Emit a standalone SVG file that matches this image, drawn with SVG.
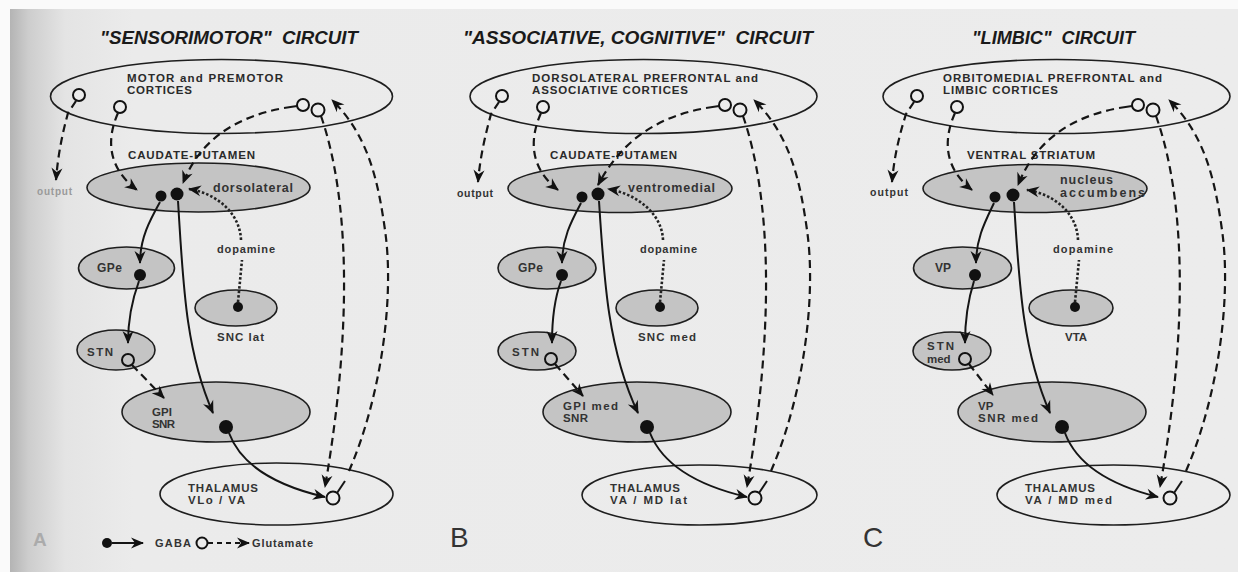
<svg xmlns="http://www.w3.org/2000/svg" width="1238" height="572" viewBox="0 0 1238 572">
<defs>
<linearGradient id="page" x1="10" y1="0" x2="1238" y2="0" gradientUnits="userSpaceOnUse">
<stop offset="0" stop-color="#b4b4b4"/>
<stop offset="0.015" stop-color="#cdcdcd"/>
<stop offset="0.045" stop-color="#e4e4e4"/>
<stop offset="0.1" stop-color="#ebebeb"/>
<stop offset="1" stop-color="#ececec"/>
</linearGradient>
<marker id="ah" viewBox="-13 -6 15 12" refX="0" refY="0" markerWidth="15" markerHeight="12" markerUnits="userSpaceOnUse" orient="auto">
<path d="M1,0 L-12,-5.5 L-8,0 L-12,5.5 Z" fill="#111"/>
</marker>
<style>
.ell{stroke:#1e1e1e;stroke-width:1.6}
.g{fill:#c4c4c4}
.o{fill:none}
text{font-family:"Liberation Sans",Arial,sans-serif}
.lbl{font-weight:bold;fill:#333;font-size:11.5px}
.cx{font-weight:bold;fill:#2a2a2a;font-size:11.5px}
.ttl{font-weight:bold;font-style:italic;font-size:18px;fill:#1a1a1a;white-space:pre}
.sol{fill:none;stroke:#151515;stroke-width:2}
.dsh{fill:none;stroke:#151515;stroke-width:2.2;stroke-dasharray:8 5}
.dot{fill:none;stroke:#222;stroke-width:2.6;stroke-dasharray:2.5 2}
.fd{fill:#111}
.od{fill:#ececec;stroke:#111;stroke-width:2}
.let{font-size:28px;fill:#333}
</style>
</defs>
<rect width="1238" height="572" fill="#fafafa"/>
<rect x="10" y="9" width="1228" height="563" fill="url(#page)"/>

<!-- PANEL A -->
<g id="panelA">
<text class="ttl" x="100" y="44" textLength="258" lengthAdjust="spacingAndGlyphs">"SENSORIMOTOR"&#160; CIRCUIT</text>
<g id="a-cortex">
<ellipse cx="221.5" cy="96.5" rx="171" ry="37" class="ell o"/>
<text class="cx" x="127" y="82" textLength="156">MOTOR and PREMOTOR</text>
<text class="cx" x="127" y="94" textLength="65">CORTICES</text>
<circle cx="79" cy="95" r="6" class="od"/><circle cx="120" cy="107" r="6" class="od"/><circle cx="303" cy="105" r="6" class="od"/><circle cx="318" cy="110" r="6.5" class="od"/>
</g>
<g id="a-caudate">
<ellipse cx="198.5" cy="187.5" rx="111.5" ry="24.5" class="ell g"/>
<text class="cx" x="128" y="159" textLength="127">CAUDATE-PUTAMEN</text>
<text class="lbl" x="213" y="192" textLength="80" style="font-size:12.5px">dorsolateral</text>
<circle cx="161" cy="196" r="5.5" class="fd"/><circle cx="177" cy="194" r="6.5" class="fd"/>
</g>
<g id="a-gpe">
<ellipse cx="126.5" cy="268" rx="48" ry="21" class="ell g"/>
<text class="lbl" x="97" y="272" textLength="25" style="font-size:12px">GPe</text>
<circle cx="140" cy="275" r="6" class="fd"/>
</g>
<g id="a-snc">
<ellipse cx="236" cy="308" rx="41" ry="18" class="ell g"/>
<text class="lbl" x="217" y="341" textLength="47">SNC lat</text>
<circle cx="238" cy="307" r="5" class="fd"/>
</g>
<g id="a-stn">
<ellipse cx="116" cy="350" rx="39" ry="20" class="ell g"/>
<text class="lbl" x="87" y="356" textLength="26">STN</text>
<circle cx="128" cy="360" r="6" class="od" style="fill:#c4c4c4"/>
</g>
<g id="a-gpi">
<ellipse cx="216" cy="412" rx="94" ry="30" class="ell g"/>
<text class="lbl" x="152" y="416" textLength="20">GPI</text>
<text class="lbl" x="152" y="428" textLength="23">SNR</text>
<circle cx="226" cy="427" r="7" class="fd"/>
</g>
<g id="a-thalamus">
<ellipse cx="276.5" cy="494" rx="116.5" ry="31" class="ell o"/>
<text class="lbl" x="188" y="492" textLength="70">THALAMUS</text>
<text class="lbl" x="188" y="504" textLength="57">VLo / VA</text>
<circle cx="333" cy="498" r="6.5" class="od"/>
</g>
<g id="a-output"><text class="lbl" x="37" y="195" textLength="35" style="fill:#9a9a9a;font-size:10px">output</text></g>
<g id="a-dopamine"><text class="lbl" x="217" y="253" textLength="58" style="font-size:11px">dopamine</text></g>
<g id="a-connectors">
<path class="dsh" d="M76,101 L68,113 C62,135 58,155 56,180" marker-end="url(#ah)"/>
<path class="dsh" d="M118,113 C106,140 108,168 137,190" marker-end="url(#ah)"/>
<path class="sol" d="M297,106 L284,108"/>
<path class="dsh" d="M279,109 C235,118 200,140 183,183" marker-end="url(#ah)"/>
<path class="dsh" d="M321,116 C350,200 352,330 325,487" marker-end="url(#ah)"/>
<path class="sol" d="M337,493 L345,481"/>
<path class="dsh" d="M349,471 C380,400 395,300 385,230 C378,180 368,135 332,100" marker-end="url(#ah)"/>
<path class="sol" d="M160,202 C150,220 140,238 140,263" marker-end="url(#ah)"/>
<path class="sol" d="M178,201 C183,280 185,350 213,413" marker-end="url(#ah)"/>
<path class="sol" d="M139,281 C132,300 128,318 128,343" marker-end="url(#ah)"/>
<path class="dsh" d="M132,365 L164,398" marker-end="url(#ah)"/>
<path class="sol" d="M229,433 C242,468 282,487 325,497" marker-end="url(#ah)"/>
<path class="dot" d="M238,302 L242,260"/>
<path class="dot" d="M241,240 C240,212 215,193 189,189" marker-end="url(#ah)"/>
</g>
<g id="legend">
<circle cx="107" cy="543" r="5" class="fd"/>
<path class="sol" d="M112,543 L143,543" marker-end="url(#ah)"/>
<text class="lbl" x="155" y="547" textLength="36" style="font-size:11px">GABA</text>
<circle cx="202" cy="543" r="5.5" class="od"/>
<path class="dsh" d="M208,543 L249,543" style="stroke-dasharray:5 4" marker-end="url(#ah)"/>
<text class="lbl" x="252" y="547" textLength="61" style="font-size:11px">Glutamate</text>
</g>
<text x="33" y="546" style="font-size:19px;font-weight:bold;fill:#ababab">A</text>
</g>

<!-- PANEL B -->
<g id="panelB" transform="translate(422,0)">
<text class="ttl" x="41" y="44" textLength="350" lengthAdjust="spacingAndGlyphs">"ASSOCIATIVE, COGNITIVE"&#160; CIRCUIT</text>
<g id="b-cortex">
<ellipse cx="221.5" cy="96.5" rx="173.5" ry="37" class="ell o"/>
<text class="cx" x="110" y="82" textLength="226">DORSOLATERAL PREFRONTAL and</text>
<text class="cx" x="110" y="94" textLength="156">ASSOCIATIVE CORTICES</text>
<circle cx="80" cy="96" r="6" class="od"/><circle cx="121" cy="107" r="6" class="od"/><circle cx="303" cy="105" r="6" class="od"/><circle cx="318" cy="110" r="6.5" class="od"/>
</g>
<g id="b-caudate">
<ellipse cx="198" cy="188.5" rx="112" ry="24" class="ell g"/>
<text class="cx" x="128" y="159" textLength="127">CAUDATE-PUTAMEN</text>
<text class="lbl" x="206" y="192" textLength="87" style="font-size:12.5px">ventromedial</text>
<circle cx="160" cy="197" r="5.5" class="fd"/><circle cx="176" cy="194" r="6.5" class="fd"/>
</g>
<g id="b-gpe">
<ellipse cx="125" cy="268" rx="49" ry="21" class="ell g"/>
<text class="lbl" x="96" y="272" textLength="25" style="font-size:12px">GPe</text>
<circle cx="140" cy="275" r="6" class="fd"/>
</g>
<g id="b-snc">
<ellipse cx="235" cy="308" rx="41" ry="18" class="ell g"/>
<text class="lbl" x="216" y="341" textLength="58">SNC med</text>
<circle cx="238" cy="307" r="5" class="fd"/>
</g>
<g id="b-stn">
<ellipse cx="115" cy="351" rx="39" ry="19" class="ell g"/>
<text class="lbl" x="90" y="356" textLength="27">STN</text>
<circle cx="129" cy="359" r="6" class="od" style="fill:#c4c4c4"/>
</g>
<g id="b-gpi">
<ellipse cx="215" cy="412" rx="94" ry="30" class="ell g"/>
<text class="lbl" x="141" y="410" textLength="55">GPI med</text>
<text class="lbl" x="141" y="422" textLength="25">SNR</text>
<circle cx="225" cy="427" r="7" class="fd"/>
</g>
<g id="b-thalamus">
<ellipse cx="277.5" cy="495" rx="117.5" ry="30" class="ell o"/>
<text class="lbl" x="188" y="492" textLength="70">THALAMUS</text>
<text class="lbl" x="188" y="504" textLength="77">VA / MD lat</text>
<circle cx="333" cy="498" r="6.5" class="od"/>
</g>
<g id="b-output"><text class="lbl" x="35" y="197" textLength="36" style="font-size:10.5px">output</text></g>
<g id="b-dopamine"><text class="lbl" x="218" y="253" textLength="57" style="font-size:11px">dopamine</text></g>
<g id="b-connectors">
<path class="dsh" d="M77,102 L69,114 C63,136 58,158 56,182" marker-end="url(#ah)"/>
<path class="dsh" d="M119,113 C107,140 108,168 136,190" marker-end="url(#ah)"/>
<path class="sol" d="M297,106 L284,108"/>
<path class="dsh" d="M279,109 C235,118 200,140 176,185" marker-end="url(#ah)"/>
<path class="dsh" d="M321,116 C350,200 352,330 325,487" marker-end="url(#ah)"/>
<path class="sol" d="M337,493 L345,481"/>
<path class="dsh" d="M349,471 C380,400 395,300 385,230 C378,180 368,135 332,100" marker-end="url(#ah)"/>
<path class="sol" d="M159,203 C150,220 140,238 140,263" marker-end="url(#ah)"/>
<path class="sol" d="M177,201 C182,280 186,350 216,413" marker-end="url(#ah)"/>
<path class="sol" d="M139,281 C132,300 130,318 130,343" marker-end="url(#ah)"/>
<path class="dsh" d="M133,364 L161,396" marker-end="url(#ah)"/>
<path class="sol" d="M228,433 C242,468 282,487 325,497" marker-end="url(#ah)"/>
<path class="dot" d="M238,302 L242,260"/>
<path class="dot" d="M241,240 C240,212 212,193 186,189" marker-end="url(#ah)"/>
</g>
<text class="let" x="28" y="547">B</text>
</g>

<!-- PANEL C -->
<g id="panelC" transform="translate(836,0)">
<text class="ttl" x="136" y="44" textLength="163" lengthAdjust="spacingAndGlyphs">"LIMBIC"&#160; CIRCUIT</text>
<g id="c-cortex">
<ellipse cx="220.5" cy="96.5" rx="173.5" ry="37" class="ell o"/>
<text class="cx" x="107" y="82" textLength="219">ORBITOMEDIAL PREFRONTAL and</text>
<text class="cx" x="107" y="94" textLength="115">LIMBIC CORTICES</text>
<circle cx="81" cy="96" r="6" class="od"/><circle cx="121" cy="107" r="6" class="od"/><circle cx="302" cy="105" r="6" class="od"/><circle cx="317" cy="110" r="6.5" class="od"/>
</g>
<g id="c-striatum">
<ellipse cx="199" cy="188.5" rx="112" ry="24" class="ell g"/>
<text class="cx" x="131" y="159" textLength="128">VENTRAL STRIATUM</text>
<text class="lbl" x="224" y="184" textLength="53" style="font-size:12.5px">nucleus</text>
<text class="lbl" x="224" y="197" textLength="85" style="font-size:12.5px">accumbens</text>
<circle cx="159" cy="197" r="5.5" class="fd"/><circle cx="177" cy="195" r="6.5" class="fd"/>
</g>
<g id="c-vp">
<ellipse cx="126.5" cy="268" rx="49" ry="21" class="ell g"/>
<text class="lbl" x="99" y="272" style="font-size:12px">VP</text>
<circle cx="139" cy="275" r="6" class="fd"/>
</g>
<g id="c-vta">
<ellipse cx="235" cy="308" rx="42" ry="18" class="ell g"/>
<text class="lbl" x="229" y="341">VTA</text>
<circle cx="239" cy="307" r="5" class="fd"/>
</g>
<g id="c-stn">
<ellipse cx="116" cy="351" rx="39" ry="19" class="ell g"/>
<text class="lbl" x="91" y="350" textLength="27">STN</text>
<text class="lbl" x="91" y="363">med</text>
<circle cx="129" cy="359" r="6" class="od" style="fill:#c4c4c4"/>
</g>
<g id="c-vpsnr">
<ellipse cx="216" cy="412" rx="94" ry="30" class="ell g"/>
<text class="lbl" x="142" y="410">VP</text>
<text class="lbl" x="142" y="422" textLength="60">SNR med</text>
<circle cx="226" cy="427" r="7" class="fd"/>
</g>
<g id="c-thalamus">
<ellipse cx="277.5" cy="495" rx="116.5" ry="30" class="ell o"/>
<text class="lbl" x="189" y="492" textLength="70">THALAMUS</text>
<text class="lbl" x="189" y="504" textLength="87">VA / MD med</text>
<circle cx="334" cy="498" r="6.5" class="od"/>
</g>
<g id="c-output"><text class="lbl" x="34" y="196" textLength="38" style="font-size:10.5px">output</text></g>
<g id="c-dopamine"><text class="lbl" x="217" y="253" textLength="60" style="font-size:11px">dopamine</text></g>
<g id="c-connectors">
<path class="dsh" d="M78,102 L70,114 C63,136 58,158 56,182" marker-end="url(#ah)"/>
<path class="dsh" d="M119,113 C107,140 108,168 136,190" marker-end="url(#ah)"/>
<path class="sol" d="M296,106 L283,108"/>
<path class="dsh" d="M278,109 C235,118 200,140 182,185" marker-end="url(#ah)"/>
<path class="dsh" d="M320,116 C350,200 352,330 324,487" marker-end="url(#ah)"/>
<path class="sol" d="M338,493 L346,481"/>
<path class="dsh" d="M350,471 C381,400 396,300 386,230 C379,180 369,135 333,100" marker-end="url(#ah)"/>
<path class="sol" d="M158,203 C150,220 140,238 140,263" marker-end="url(#ah)"/>
<path class="sol" d="M178,202 C183,280 186,350 214,413" marker-end="url(#ah)"/>
<path class="sol" d="M138,281 C132,300 129,318 129,343" marker-end="url(#ah)"/>
<path class="dsh" d="M133,364 L157,395" marker-end="url(#ah)"/>
<path class="sol" d="M229,433 C242,468 282,487 322,497" marker-end="url(#ah)"/>
<path class="dot" d="M239,302 L243,260"/>
<path class="dot" d="M242,240 C241,212 217,194 191,190" marker-end="url(#ah)"/>
</g>
<text class="let" x="27" y="547">C</text>
</g>
</svg>
